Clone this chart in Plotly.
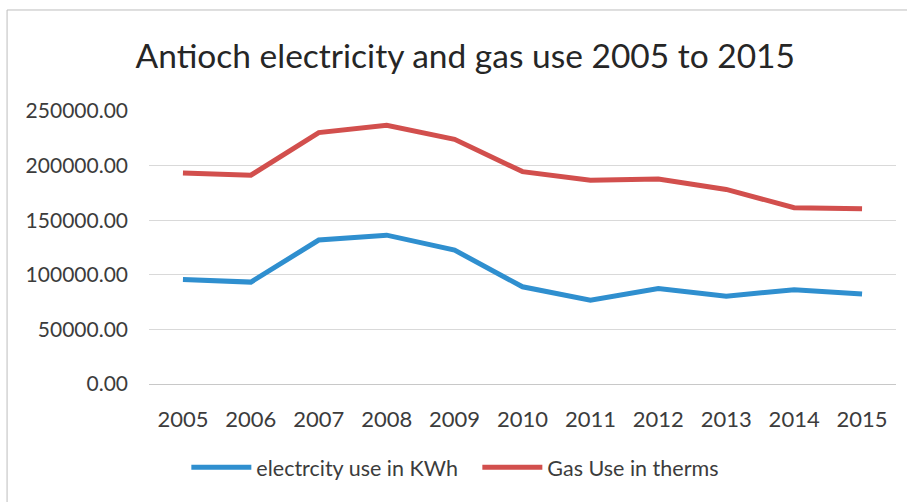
import plotly.graph_objects as go

years = ["2005", "2006", "2007", "2008", "2009", "2010", "2011", "2012", "2013", "2014", "2015"]
electricity = [95800, 93300, 131800, 136300, 122600, 89000, 76800, 87500, 80300, 86400, 82500]
gas = [193300, 191200, 230200, 236900, 224100, 194500, 186600, 187800, 178200, 161500, 160500]

BLUE = "#2f8fcf"
RED = "#d24f4d"
FONT = "Lato"

fig = go.Figure()
fig.add_trace(go.Scatter(x=years, y=electricity, mode="lines", name="electrcity use in KWh",
                         line=dict(color=BLUE, width=5)))
fig.add_trace(go.Scatter(x=years, y=gas, mode="lines", name="Gas Use in therms",
                         line=dict(color=RED, width=5)))

fig.update_layout(
    width=907, height=502,
    margin=dict(l=149, r=11, t=111, b=118, autoexpand=False),
    paper_bgcolor="white", plot_bgcolor="white",
    title=dict(text="Antioch electricity and gas use 2005 to 2015",
               font=dict(family=FONT, size=33.5, color="#262626"),
               x=0.513, xanchor="center", y=0.887, yanchor="middle"),
    font=dict(family=FONT, color="#4a4a4a"),
    xaxis=dict(type="category", range=[-0.5, len(years) - 0.5], showgrid=False,
               showline=False, zeroline=False,
               tickfont=dict(size=22, color="#3c3c3c"), ticks="", ticklabelstandoff=20),
    yaxis=dict(range=[0, 250000], dtick=50000, tickformat=".2f",
               showgrid=True, gridcolor="#d9d9d9", gridwidth=1,
               zeroline=True, zerolinecolor="#c8c8c8", zerolinewidth=1,
               tickfont=dict(size=21, color="#3c3c3c"), ticklabelstandoff=20),
    legend=dict(orientation="h", x=0.05, xanchor="left", y=-0.305, yanchor="middle",
                font=dict(size=21.5, color="#3c3c3c"), itemwidth=60,
                entrywidth=216, entrywidthmode="pixels",
                bgcolor="rgba(0,0,0,0)"),
    shapes=[dict(type="rect", xref="paper", yref="paper",
                 x0=-0.19, x1=1.1, y0=-0.5, y1=1.37,
                 line=dict(color="#bdbdbd", width=1), layer="below")],
)

fig.write_html("out.html")
